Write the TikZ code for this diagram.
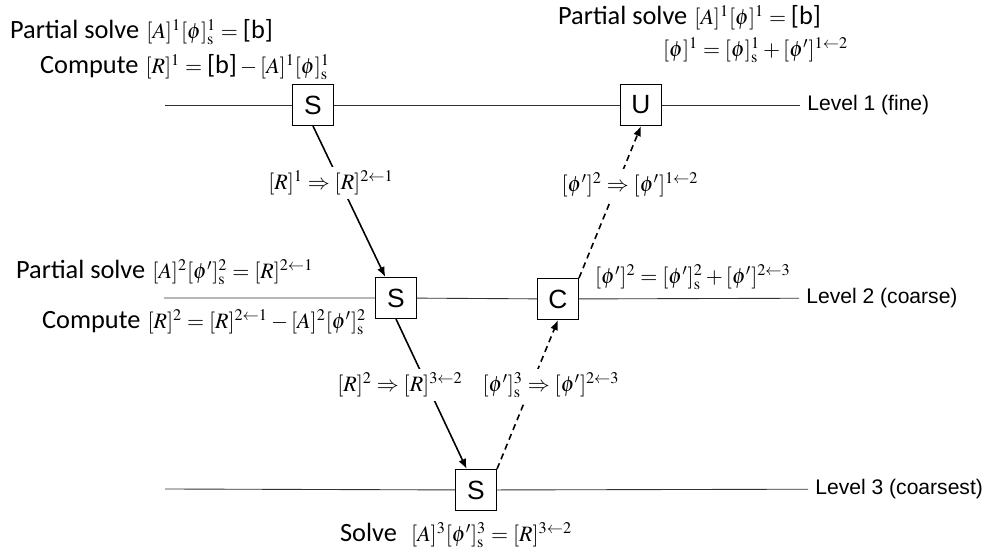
\documentclass[tikz,border=0pt]{standalone}
\usepackage{amsmath}
\usepackage{mathptmx}
\usepackage{fontspec}
\setsansfont{Liberation Sans}
\newfontfamily\calfont{Carlito}
\usetikzlibrary{positioning, arrows.meta}
\newcommand{\calword}[1]{{\calfont\fontsize{15}{18}\selectfont #1}}
\tikzset{
    stage/.style={
        rectangle, draw=black, line width=0.6pt,
        minimum size=0.82cm, inner sep=0pt,
        fill=white,
        font=\sffamily\fontsize{15}{18}\selectfont
    },
    level/.style={
        line width=0.5pt, draw=black!80
    },
    level_label/.style={
        anchor=west, inner sep=4pt,
        font=\sffamily\fontsize{12}{14}\selectfont
    },
    restrict/.style={
        -{Latex[length=2mm, width=1.6mm]}, line width=0.9pt
    },
    prolong/.style={
        restrict, dash pattern=on 3.5pt off 2.5pt
    },
    eqn/.style={
        inner sep=1pt,
        font=\fontsize{12.5}{15}\selectfont
    },
    transfer/.style={
        eqn, fill=white, inner sep=2pt
    }
}
\begin{document}
\begin{tikzpicture}[x=0.02cm, y=-0.02cm]
\useasboundingbox (0,0) rectangle (984,553);

% levels
\coordinate (l1start) at (165,105);
\coordinate (l2start) at (164,298);
\coordinate (l3start) at (165,489);
\node[level_label] (l1lab) at (800,105) {Level 1 (fine)};
\node[level_label] (l2lab) at (799,298) {Level 2 (coarse)};
\node[level_label] (l3lab) at (808,489) {Level 3 (coarsest)};

\node[stage] (s1) at (313,105) {S};
\node[stage] (u1) at (641,105) {U};
\node[stage] (s2) at (396,298) {S};
\node[stage] (c2) at (558,299) {C};
\node[stage] (s3) at (476,490) {S};

\draw[level] (l1start) -- (s1) -- (u1) -- (l1lab);
\draw[level] (l2start) -- (s2) -- (c2) -- (l2lab);
\draw[level] (l3start) -- (s3) -- (l3lab);

% restriction and prolongation
\draw[restrict] (s1.south) -- (s2.117);
\draw[restrict] (s2.south) -- (s3.114);
\draw[prolong] (s3.north east) -- (c2.south);
\draw[prolong] (c2.north east) -- (u1.south);

\node[transfer] (t12) at (331,183) {$[R]^1 \Rightarrow [R]^{2\leftarrow 1}$};
\node[transfer] (t21) at (630,185) {$[\phi']^2 \Rightarrow [\phi']^{1\leftarrow 2}$};
\node[transfer] (t23) at (400,385) {$[R]^2 \Rightarrow [R]^{3\leftarrow 2}$};
\node[transfer] (t32) at (551,385) {$[\phi']^3_{\mathrm{s}} \Rightarrow [\phi']^{2\leftarrow 3}$};

% equations
\node[eqn, anchor=west] (pre1) at (8,32) {\calword{Partial solve}~$[A]^1[\phi]^1_{\mathrm{s}} = \mbox{\calword{[b]}}$};
\node[eqn, anchor=west] (res1) at (38,67) {\calword{Compute}~$[R]^1 = \mbox{\calword{[b]}} - [A]^1[\phi]^1_{\mathrm{s}}$};
\node[eqn, anchor=west] (post1) at (556,18) {\calword{Partial solve}~$[A]^1[\phi]^1 = \mbox{\calword{[b]}}$};
\node[eqn, anchor=west] (corr1) at (661,50) {$[\phi]^1 = [\phi]^1_{\mathrm{s}} + [\phi']^{1\leftarrow 2}$};
\node[eqn, anchor=west] (pre2) at (14,272) {\calword{Partial solve}~$[A]^2[\phi']^2_{\mathrm{s}} = [R]^{2\leftarrow 1}$};
\node[eqn, anchor=west] (res2) at (40,322) {\calword{Compute}~$[R]^2 = [R]^{2\leftarrow 1} - [A]^2[\phi']^2_{\mathrm{s}}$};
\node[eqn, anchor=west] (corr2) at (593,277) {$[\phi']^2 = [\phi']^2_{\mathrm{s}} + [\phi']^{2\leftarrow 3}$};
\node[eqn, anchor=west] (solve3) at (338,535) {\calword{Solve}~~$[A]^3[\phi']^3_{\mathrm{s}} = [R]^{3\leftarrow 2}$};

\end{tikzpicture}
\end{document}
